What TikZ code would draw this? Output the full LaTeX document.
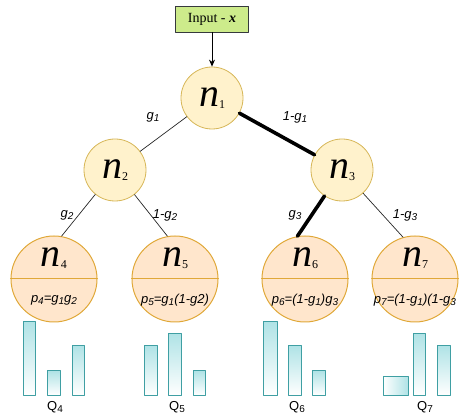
\documentclass[tikz,border=0pt]{standalone}
\usepackage{fontspec}
\setmainfont{Liberation Serif}
\newfontfamily\arialfont{Liberation Sans}
\usetikzlibrary{arrows.meta}
\definecolor{finner}{HTML}{FFF2CC}
\definecolor{cinner}{HTML}{D6B656}
\definecolor{fleaf}{HTML}{FFE6CC}
\definecolor{cleaf}{HTML}{E0A838}
\definecolor{fbar}{HTML}{B0E3E6}
\definecolor{cbar}{HTML}{3F9FA3}
\definecolor{finput}{HTML}{CDEB8B}
\definecolor{cinput}{HTML}{36393D}
\newcommand{\nlab}[1]{{\fontsize{40}{40}\selectfont\itshape n}\raisebox{-2pt}{\fontsize{12}{12}\selectfont #1}}
\newcommand{\lsub}[1]{\raisebox{-2.5pt}{\fontsize{10}{10}\selectfont #1}}
\begin{document}
\begin{tikzpicture}[x=1pt,y=-1pt,line join=round,line cap=round,>={Stealth[length=7pt,width=6pt]},
	inner/.style={circle,draw=cinner,fill=finner,line width=0.8pt,minimum size=62pt,inner sep=0pt},
	leaf/.style={circle,draw=cleaf,fill=fleaf,line width=1pt,minimum size=86pt,inner sep=0pt},
	edge/.style={line width=0.7pt,draw=black!85},
	hot/.style={line width=3.6pt,draw=black},
	glab/.style={font=\arialfont\itshape\fontsize{13}{13}\selectfont,inner sep=0pt},
	plab/.style={font=\arialfont\itshape\fontsize{13}{13}\selectfont,inner sep=0pt},
	qlab/.style={font=\arialfont\fontsize{13}{13}\selectfont,inner sep=0pt},
	bar/.style={draw=cbar,line width=1pt,top color=fbar,bottom color=white}]
	\useasboundingbox (0,0) rectangle (461,414);
	% input and inner nodes
	\node[draw=cinput,fill=finput,line width=0.8pt,minimum width=73pt,minimum height=26pt,inner sep=1pt,font=\fontsize{14}{14}\selectfont] (inp) at (212,19) {Input - \textbf{\textit{x}}};
	\node[inner] (n1) at (212,98) {\nlab{1}};
	\node[inner] (n2) at (115,170) {\nlab{2}};
	\node[inner] (n3) at (342,170) {\nlab{3}};
	% leaves
	\foreach \i/\x/\p in {4/54/{p\lsub{4}=g\lsub{1}g\lsub{2}},
		5/175/{p\lsub{5}=g\lsub{1}(1-g2)},
		6/305/{p\lsub{6}=(1-g\lsub{1})g\lsub{3}},
		7/415/{p\lsub{7}=(1-g\lsub{1})(1-g\lsub{3}}}{
		\node[leaf] (n\i) at (\x,279) {};
		\draw[cleaf,line width=1pt] (n\i.west) -- (n\i.east);
		\node (t\i) at (\x,258) {\nlab{\i}};
		\node[plab] (p\i) at (\x,300) {\p};
	}
	% edges
	\draw[->,line width=0.8pt] (inp) -- (n1);
	\draw[edge] (n1) -- (n2);
	\draw[hot] (n1) -- (n3);
	\draw[edge] (n2) -- (n4.80);
	\draw[edge] (n2) -- (n5.100);
	\draw[hot] (n3) -- (n6.100);
	\draw[edge] (n3) -- (n7.106);
	\node[glab] (g1) at (153,117) {g\lsub{1}};
	\node[glab] (h1) at (295,117) {1-g\lsub{1}};
	\node[glab] (g2) at (67,215) {g\lsub{2}};
	\node[glab] (h2) at (165,215) {1-g\lsub{2}};
	\node[glab] (g3) at (295,215) {g\lsub{3}};
	\node[glab] (h3) at (405,215) {1-g\lsub{3}};
	% bars
	\foreach \xa/\xb/\yt in {23/35/322, 47/60/371, 72/84/346,
		144/157/346, 168/181/334, 193/205/371,
		263/277/322, 288/301/346, 312/325/371,
		413/425/334, 437/450/346}
		\draw[bar] (\xa,395) rectangle (\xb,\yt);
	\draw[bar,left color=white,right color=fbar] (383,395) rectangle (408,377);
	\node[qlab] (q4) at (55,407) {Q\lsub{4}};
	\node[qlab] (q5) at (177,407) {Q\lsub{5}};
	\node[qlab] (q6) at (297,407) {Q\lsub{6}};
	\node[qlab] (q7) at (425,407) {Q\lsub{7}};
\end{tikzpicture}
\end{document}
